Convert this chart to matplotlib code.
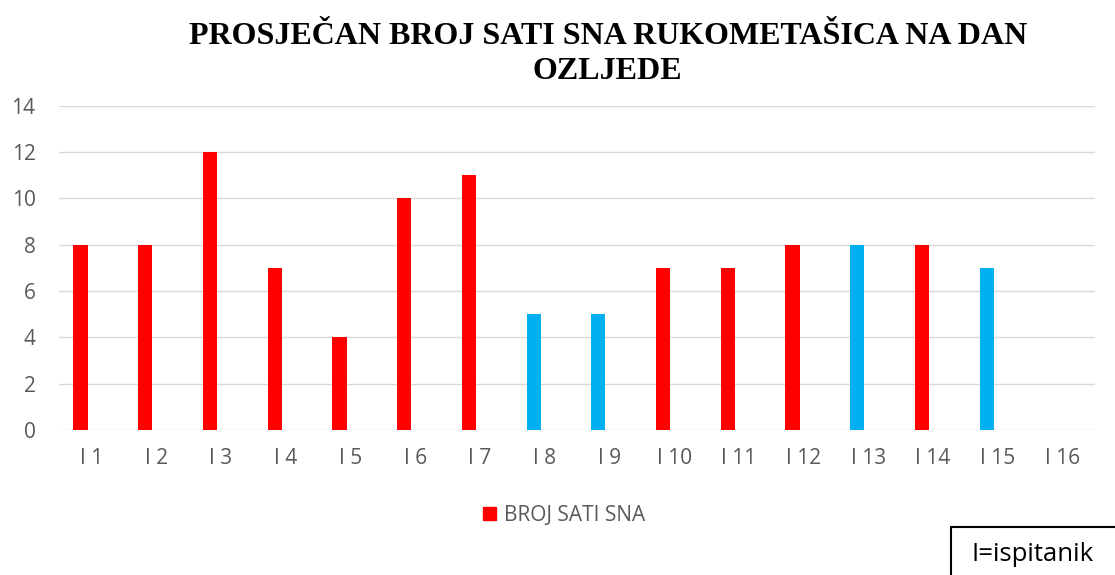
import matplotlib.pyplot as plt
from matplotlib.patches import Patch, Rectangle

# data
labels = ['I 1', 'I 2', 'I 3', 'I 4', 'I 5', 'I 6', 'I 7', 'I 8',
          'I 9', 'I 10', 'I 11', 'I 12', 'I 13', 'I 14', 'I 15', 'I 16']
sati = [8, 8, 12, 7, 4, 10, 11, 5, 5, 7, 7, 8, 8, 8, 7, 0]
plavi = ['I 8', 'I 9', 'I 13', 'I 15']  # bars drawn in blue

red = '#FF0000'
blue = '#00B0F0'
gray = '#595959'
colors = [blue if l in plavi else red for l in labels]

fig = plt.figure(figsize=(11.15, 5.75), dpi=100)
ax = fig.add_axes([0.053, 0.252, 0.929, 0.564])

x = list(range(len(labels)))
# excel leaves room for an empty second series, so bars sit left of the tick
ax.bar([i - 0.17 for i in x], sati, width=0.22, color=colors, zorder=3)

ax.set_xlim(-0.5, len(labels) - 0.5)
ax.set_ylim(0, 14)
ax.set_yticks(range(0, 15, 2))
ax.set_xticks(x)
ax.set_xticklabels(labels)
ax.grid(axis='y', color='#D9D9D9', linewidth=1, zorder=0)
for s in ax.spines.values():
    s.set_visible(False)
ax.tick_params(length=0, colors=gray, labelsize=15)
ax.tick_params(axis='x', pad=13)
ax.tick_params(axis='y', pad=17)
for t in ax.get_xticklabels() + ax.get_yticklabels():
    t.set_fontfamily('Open Sans')

fig.text(0.545, 0.906, 'PROSJEČAN BROJ SATI SNA RUKOMETAŠICA NA DAN\nOZLJEDE',
         ha='center', va='center', fontsize=23, fontweight='bold',
         family='Liberation Serif', linespacing=1.3)

leg = fig.legend(handles=[Patch(color=red, label='BROJ SATI SNA')],
                 loc='center', bbox_to_anchor=(0.506, 0.104), frameon=False,
                 prop={'family': 'Open Sans', 'size': 15},
                 handlelength=0.6, handleheight=0.6, handletextpad=0.4)
for t in leg.get_texts():
    t.set_color(gray)

fig.patches.append(Rectangle((0.853, -0.01), 0.2, 0.094, transform=fig.transFigure,
                             fill=False, edgecolor='black', linewidth=1.5))
fig.text(0.926, 0.035, 'I=ispitanik', ha='center', va='center',
         fontsize=18.5, family='Open Sans')

plt.savefig('out.png', dpi=100)
